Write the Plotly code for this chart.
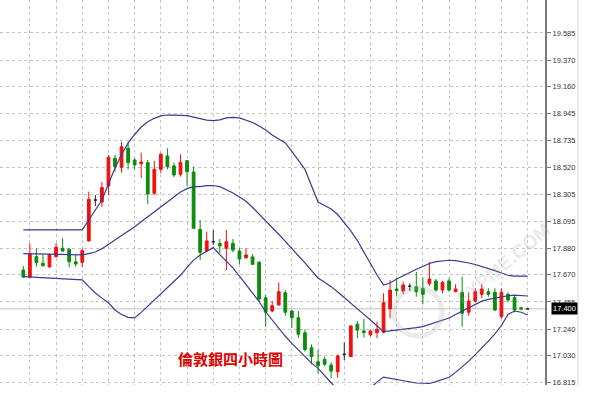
import plotly.graph_objects as go

# ---------------- data (4-hour silver candles, index = bar number) ----------------
bar_index = list(range(78))

opens = [17.708, 17.650, 17.813, 17.761, 17.732, 17.813, 17.880, 17.872, 17.773, 17.768,
         17.938, 18.262, 18.246, 18.373, 18.593, 18.521, 18.672, 18.579, 18.550, 18.558,
         18.315, 18.505, 18.611, 18.532, 18.466, 18.573, 18.484, 18.030, 17.861, 17.932,
         17.919, 17.880, 17.919, 17.858, 17.805, 17.811, 17.769, 17.488, 17.383, 17.431,
         17.528, 17.383, 17.330, 17.210, 17.092, 16.981, 17.000, 16.955, 16.902, 17.040,
         17.021, 17.278, 17.225, 17.194, 17.211, 17.214, 17.399, 17.557, 17.541, 17.579,
         17.576, 17.563, 17.602, 17.621, 17.549, 17.621, 17.536, 17.531, 17.373, 17.462,
         17.515, 17.536, 17.531, 17.338, 17.515, 17.488, 17.409, 17.400]
highs = [17.740, 17.919, 17.880, 17.827, 17.840, 17.919, 17.959, 17.880, 17.827, 17.880,
         18.328, 18.302, 18.405, 18.619, 18.619, 18.724, 18.724, 18.593, 18.637, 18.579,
         18.573, 18.637, 18.672, 18.558, 18.624, 18.579, 18.526, 18.104, 18.011, 18.025,
         17.953, 18.025, 17.953, 17.880, 17.880, 17.832, 17.779, 17.510, 17.462, 17.610,
         17.549, 17.391, 17.383, 17.237, 17.119, 17.074, 17.021, 16.977, 17.040, 17.135,
         17.272, 17.304, 17.320, 17.236, 17.298, 17.523, 17.629, 17.642, 17.615, 17.602,
         17.692, 17.647, 17.771, 17.636, 17.621, 17.642, 17.595, 17.655, 17.531, 17.563,
         17.595, 17.563, 17.563, 17.563, 17.531, 17.504, 17.417, 17.403]
lows = [17.645, 17.645, 17.734, 17.734, 17.726, 17.808, 17.853, 17.729, 17.734, 17.729,
        17.932, 18.215, 18.207, 18.302, 18.486, 18.478, 18.505, 18.505, 18.434, 18.231,
        18.302, 18.474, 18.505, 18.442, 18.447, 18.373, 18.033, 17.787, 17.850, 17.906,
        17.840, 17.708, 17.848, 17.753, 17.795, 17.747, 17.462, 17.259, 17.373, 17.425,
        17.346, 17.246, 17.167, 17.061, 16.961, 16.889, 16.947, 16.850, 16.855, 16.995,
        17.019, 17.167, 17.172, 17.183, 17.167, 17.206, 17.325, 17.504, 17.515, 17.541,
        17.496, 17.436, 17.581, 17.536, 17.523, 17.536, 17.531, 17.259, 17.346, 17.452,
        17.484, 17.496, 17.383, 17.325, 17.452, 17.373, 17.389, 17.398]
closes = [17.652, 17.832, 17.766, 17.742, 17.827, 17.888, 17.858, 17.773, 17.755, 17.861,
          18.268, 18.262, 18.361, 18.600, 18.526, 18.684, 18.558, 18.540, 18.563, 18.310,
          18.505, 18.624, 18.526, 18.460, 18.561, 18.486, 18.038, 17.848, 17.938, 17.932,
          17.898, 17.932, 17.866, 17.795, 17.827, 17.753, 17.478, 17.373, 17.425, 17.536,
          17.373, 17.330, 17.199, 17.078, 17.021, 16.950, 16.961, 16.908, 17.027, 17.040,
          17.264, 17.232, 17.214, 17.225, 17.238, 17.449, 17.549, 17.544, 17.589, 17.579,
          17.536, 17.515, 17.636, 17.549, 17.610, 17.549, 17.557, 17.365, 17.462, 17.536,
          17.557, 17.515, 17.391, 17.531, 17.470, 17.391, 17.400, 17.400]

# Bollinger bands, one value per bar
band_upper = [18.025, 18.025, 18.025, 18.025, 18.025, 18.025, 18.025, 18.025, 18.025, 18.025,
              18.104, 18.183, 18.262, 18.389, 18.515, 18.623, 18.712, 18.781, 18.840, 18.882,
              18.909, 18.928, 18.935, 18.934, 18.932, 18.930, 18.918, 18.905, 18.895, 18.890,
              18.897, 18.912, 18.916, 18.912, 18.896, 18.876, 18.848, 18.817, 18.777, 18.746,
              18.714, 18.647, 18.575, 18.505, 18.375, 18.246, 18.218, 18.191, 18.147, 18.082,
              18.017, 17.941, 17.850, 17.758, 17.668, 17.589, 17.605, 17.637, 17.664, 17.690,
              17.714, 17.736, 17.759, 17.774, 17.781, 17.785, 17.782, 17.775, 17.763, 17.751,
              17.736, 17.720, 17.703, 17.684, 17.666, 17.660, 17.660, 17.660]
band_middle = [17.838, 17.837, 17.836, 17.835, 17.834, 17.833, 17.831, 17.830, 17.828, 17.827,
               17.838, 17.850, 17.877, 17.911, 17.945, 17.980, 18.015, 18.050, 18.090, 18.129,
               18.170, 18.209, 18.249, 18.287, 18.326, 18.352, 18.368, 18.368, 18.376, 18.377,
               18.368, 18.343, 18.318, 18.286, 18.252, 18.203, 18.152, 18.099, 18.048, 17.991,
               17.934, 17.879, 17.825, 17.764, 17.702, 17.645, 17.610, 17.576, 17.533, 17.487,
               17.442, 17.399, 17.356, 17.312, 17.265, 17.219, 17.225, 17.230, 17.236, 17.244,
               17.251, 17.259, 17.275, 17.292, 17.309, 17.328, 17.355, 17.381, 17.407, 17.434,
               17.461, 17.475, 17.486, 17.496, 17.504, 17.508, 17.506, 17.502]
band_lower = [17.655, 17.652, 17.652, 17.650, 17.648, 17.640, 17.637, 17.635, 17.632, 17.629,
              17.576, 17.526, 17.485, 17.448, 17.391, 17.355, 17.333, 17.328, 17.372, 17.420,
              17.470, 17.519, 17.568, 17.617, 17.666, 17.729, 17.786, 17.827, 17.858, 17.885,
              17.830, 17.777, 17.724, 17.660, 17.595, 17.529, 17.458, 17.377, 17.311, 17.245,
              17.183, 17.127, 17.073, 17.020, 16.970, 16.929, 16.875, 16.815, 16.757, 16.701,
              16.695, 16.699, 16.730, 16.777, 16.820, 16.860, 16.851, 16.841, 16.832, 16.821,
              16.813, 16.811, 16.809, 16.824, 16.841, 16.858, 16.897, 16.940, 16.986, 17.038,
              17.088, 17.145, 17.202, 17.268, 17.356, 17.383, 17.373, 17.351]

price_ticks = [19.585, 19.370, 19.160, 18.945, 18.735, 18.520, 18.305, 18.095,
               17.880, 17.670, 17.455, 17.240, 17.030, 16.815]
time_grid = list(range(1, 78, 4))
last_price = 17.400
title_text = "倫敦銀四小時圖"
watermark_text = "FXPME.COM"

# ---------------- figure ----------------
RED = "#f01010"
GREEN = "#0c8c0c"
BAND = "#3a3a8e"
GRID = "#c4c4c4"

doji = [i for i in bar_index if opens[i] == closes[i]]
normal = [i for i in bar_index if opens[i] != closes[i]]

fig = go.Figure()
fig.add_trace(go.Candlestick(
    x=normal,
    open=[opens[i] for i in normal], high=[highs[i] for i in normal],
    low=[lows[i] for i in normal], close=[closes[i] for i in normal],
    increasing=dict(line=dict(color=RED, width=1), fillcolor=RED),
    decreasing=dict(line=dict(color=GREEN, width=1), fillcolor=GREEN),
    showlegend=False, hoverinfo="skip"))
fig.add_trace(go.Candlestick(
    x=doji,
    open=[opens[i] for i in doji], high=[highs[i] for i in doji],
    low=[lows[i] for i in doji], close=[closes[i] for i in doji],
    increasing=dict(line=dict(color="#222222", width=1), fillcolor="#222222"),
    decreasing=dict(line=dict(color="#222222", width=1), fillcolor="#222222"),
    showlegend=False, hoverinfo="skip"))

for band in (band_upper, band_middle, band_lower):
    fig.add_trace(go.Scatter(x=bar_index, y=band, mode="lines",
                             line=dict(color=BAND, width=1.2),
                             showlegend=False, hoverinfo="skip"))

W, H = 594, 397
plot_right = 545
plot_bottom = 385

fig.update_layout(
    width=W, height=H,
    margin=dict(l=0, r=W - plot_right, t=0, b=H - plot_bottom),
    paper_bgcolor="white", plot_bgcolor="white",
    boxgap=0.4,
    xaxis=dict(range=[-3.56, 79.65], tickvals=time_grid, showticklabels=False,
               ticks="", showgrid=True, gridcolor=GRID, griddash="3px,3px",
               gridwidth=1, zeroline=False, showline=False,
               rangeslider=dict(visible=False), fixedrange=True),
    yaxis=dict(side="right", range=[16.797, 19.846], tickvals=price_ticks,
               ticktext=[f"{v:.3f}" for v in price_ticks],
               showgrid=True, gridcolor=GRID, griddash="3px,3px", gridwidth=1,
               zeroline=False, showline=True, linecolor="#7a7a7a", linewidth=2,
               ticks="outside", ticklen=4, tickcolor="#7a7a7a",
               tickfont=dict(family="Liberation Sans, Arial", size=7.5, color="#333333"),
               fixedrange=True),
)

# current price line
fig.add_shape(type="line", xref="paper", yref="y", x0=0, x1=1,
              y0=last_price, y1=last_price, line=dict(color="#c0c0c0", width=1),
              layer="below")
# right frame line
fig.add_shape(type="line", xref="paper", yref="paper", x0=578 / plot_right,
              x1=578 / plot_right, y0=0, y1=1, line=dict(color="#d4d4d4", width=1))
# bottom blank strip (chart window is cut off there)
fig.add_shape(type="rect", xref="paper", yref="paper", x0=-0.01, x1=W / plot_right + 0.01,
              y0=-(H - plot_bottom) / plot_bottom - 0.01, y1=0,
              fillcolor="white", line=dict(width=0), layer="above")

# watermark
fig.add_annotation(xref="paper", yref="paper", x=503 / plot_right, y=1 - 264 / plot_bottom,
                   xanchor="center", yanchor="middle",
                   text=f"<b>{watermark_text}</b>", showarrow=False, textangle=-40,
                   font=dict(family="Liberation Sans, Arial", size=19,
                             color="rgba(170,170,170,0.25)"))
fig.add_shape(type="circle", xref="paper", yref="paper",
              x0=394 / plot_right, x1=442 / plot_right,
              y0=1 - 336 / plot_bottom, y1=1 - 288 / plot_bottom,
              line=dict(color="rgba(170,170,170,0.25)", width=5))

# last price tag
fig.add_annotation(xref="paper", yref="y", x=(plot_right + 6) / plot_right, y=last_price,
                   xanchor="left", yanchor="middle", text=f"{last_price:.3f}",
                   showarrow=False, bgcolor="#000000", borderpad=1,
                   font=dict(family="Liberation Sans, Arial", size=7.5, color="white"))

# chart title
fig.add_annotation(xref="paper", yref="paper", x=230 / plot_right, y=1 - 358 / plot_bottom,
                   xanchor="center", yanchor="middle",
                   text=f"<b>{title_text}</b>", showarrow=False,
                   font=dict(family="Noto Sans CJK TC", size=15, color="#dd0000"))

fig.write_html("out.html")
